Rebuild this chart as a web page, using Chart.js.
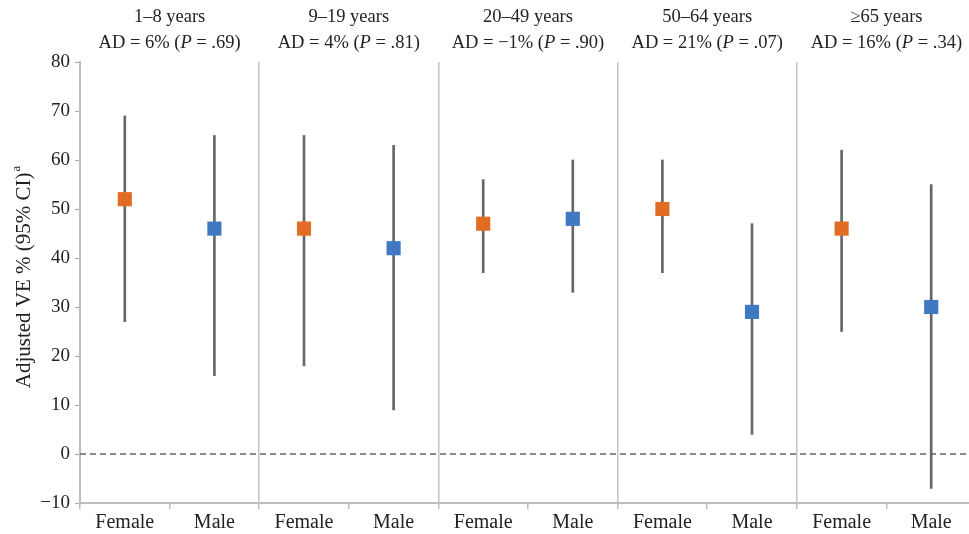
<!DOCTYPE html>
<html>
<head>
<meta charset="utf-8">
<script src="https://cdn.jsdelivr.net/npm/chart.js@4"></script>
<style>
  html, body { margin: 0; padding: 0; background: #fff; }
  #wrap { width: 969px; height: 534px; overflow: hidden; }
  canvas { display: block; }
</style>
</head>
<body>
<div id="wrap"><canvas id="veChart" width="986" height="534"></canvas></div>
<script>
// Age groups and their header statistics
var ageGroups = ['1\u20138 years', '9\u201319 years', '20\u201349 years', '50\u201364 years', '\u226565 years'];
var adValues = ['6%', '4%', '\u22121%', '21%', '16%'];
var pValues = ['.69', '.81', '.90', '.07', '.34'];
var sexes = ['Female', 'Male'];

// VE estimates and 95% CI, ordered Female, Male for each age group
var veEstimate = [52, 46, 46, 42, 47, 48, 50, 29, 46, 30];
var ciLow = [27, 16, 18, 9, 37, 33, 37, 4, 25, -7];
var ciHigh = [69, 65, 65, 63, 56, 60, 60, 47, 62, 55];

var yTicks = [-10, 0, 10, 20, 30, 40, 50, 60, 70, 80];
var referenceLine = 0;

var sexColors = { Female: '#e36c25', Male: '#4079c1' };
var serif = "'Liberation Serif', 'DejaVu Serif', serif";

// x labels: Female / Male repeated for each group
var labels = [];
ageGroups.forEach(function () {
    sexes.forEach(function (s) { labels.push(s); });
});

// Custom drawing: dashed zero line, group headers, y-axis title with superscript
var annotations = {
    id: 'annotations',
    beforeDatasetsDraw: function (chart) {
        var ctx = chart.ctx, area = chart.chartArea;
        var yy = chart.scales.y.getPixelForValue(referenceLine);
        ctx.save();
        ctx.strokeStyle = '#666';
        ctx.lineWidth = 1.3;
        ctx.setLineDash([6, 4]);
        ctx.beginPath();
        ctx.moveTo(area.left, yy);
        ctx.lineTo(area.right, yy);
        ctx.stroke();
        ctx.restore();
    },
    afterDraw: function (chart) {
        var ctx = chart.ctx, x = chart.scales.x, area = chart.chartArea;
        ctx.save();
        ctx.fillStyle = '#222';
        ctx.textBaseline = 'middle';

        ageGroups.forEach(function (g, i) {
            var cx = (x.getPixelForValue(i * 2) + x.getPixelForValue(i * 2 + 1)) / 2;
            ctx.font = '18.5px ' + serif;
            ctx.textAlign = 'center';
            ctx.fillText(g, cx, 17);

            var parts = [
                { t: 'AD = ' + adValues[i] + ' (', it: false },
                { t: 'P', it: true },
                { t: ' = ' + pValues[i] + ')', it: false }
            ];
            var total = 0;
            parts.forEach(function (p) {
                ctx.font = (p.it ? 'italic ' : '') + '18.5px ' + serif;
                p.w = ctx.measureText(p.t).width;
                total += p.w;
            });
            var px = cx - total / 2;
            ctx.textAlign = 'left';
            parts.forEach(function (p) {
                ctx.font = (p.it ? 'italic ' : '') + '18.5px ' + serif;
                ctx.fillText(p.t, px, 43);
                px += p.w;
            });
        });

        // y axis title
        var main = 'Adjusted VE % (95% CI)';
        ctx.translate(24, (area.top + area.bottom) / 2 - 5);
        ctx.rotate(-Math.PI / 2);
        ctx.font = '21px ' + serif;
        var w1 = ctx.measureText(main).width;
        ctx.font = '13px ' + serif;
        var w2 = ctx.measureText('a').width;
        var sx = -(w1 + w2) / 2;
        ctx.textAlign = 'left';
        ctx.font = '21px ' + serif;
        ctx.fillText(main, sx, 0);
        ctx.font = '13px ' + serif;
        ctx.fillText('a', sx + w1 + 1, -7);
        ctx.restore();
    }
};

var chart = new Chart(document.getElementById('veChart').getContext('2d'), {
    type: 'bar',
    data: {
        labels: labels,
        datasets: [{
            // 95% CI whiskers
            type: 'bar',
            data: ciLow.map(function (lo, i) { return [lo, ciHigh[i]]; }),
            backgroundColor: '#666',
            barThickness: 2,
            borderWidth: 0,
            order: 2
        }, {
            // point estimates
            type: 'line',
            data: veEstimate,
            showLine: false,
            pointStyle: 'rect',
            pointRadius: 10,
            pointBorderWidth: 0,
            pointBackgroundColor: labels.map(function (s) { return sexColors[s]; }),
            order: 1
        }]
    },
    options: {
        responsive: false,
        animation: false,
        layout: { padding: { top: 62, right: 1, bottom: 0, left: 0 } },
        plugins: {
            legend: { display: false },
            tooltip: { enabled: false }
        },
        scales: {
            x: {
                offset: true,
                afterFit: function (scale) { scale.height = 31; },
                grid: {
                    offset: true,
                    color: function (c) { return c.index % 2 === 0 ? '#c4c4c4' : 'rgba(0,0,0,0)'; },
                    lineWidth: 1.5,
                    tickColor: '#bdbdbd',
                    tickLength: 6
                },
                border: { color: '#bdbdbd', width: 2 },
                ticks: {
                    font: { family: serif, size: 20 },
                    color: '#222',
                    padding: 2,
                    maxRotation: 0,
                    autoSkip: false
                }
            },
            y: {
                min: yTicks[0],
                max: yTicks[yTicks.length - 1],
                afterBuildTicks: function (scale) {
                    scale.ticks = yTicks.map(function (v) { return { value: v }; });
                },
                afterFit: function (scale) { scale.width = 80; },
                grid: {
                    drawOnChartArea: false,
                    tickColor: '#aaa',
                    tickLength: 5
                },
                border: { color: '#bdbdbd', width: 2 },
                ticks: {
                    font: { family: serif, size: 19 },
                    color: '#222',
                    padding: 5,
                    callback: function (v) { return v < 0 ? '\u2212' + Math.abs(v) : String(v); }
                }
            }
        }
    },
    plugins: [annotations]
});
</script>
</body>
</html>
